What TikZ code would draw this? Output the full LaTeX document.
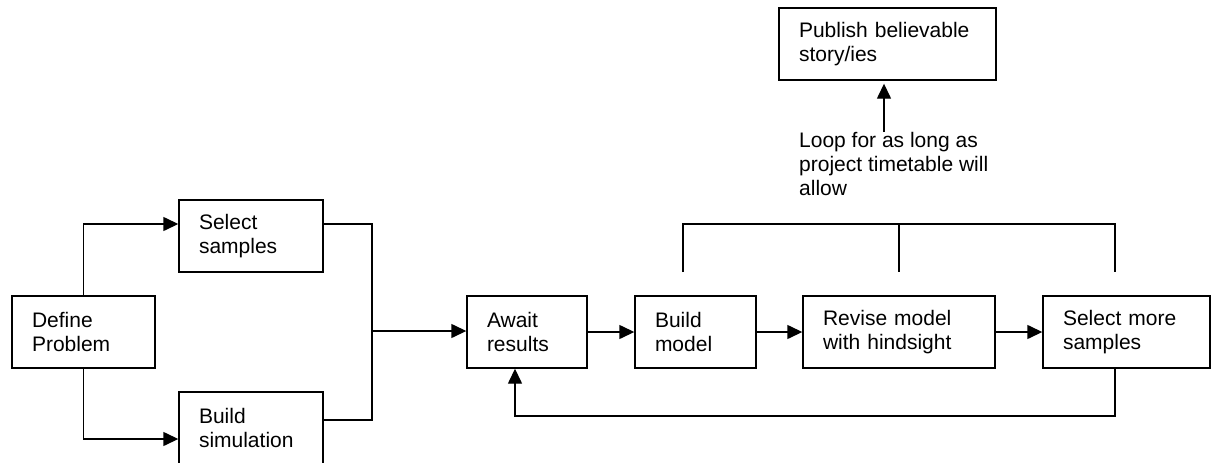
\documentclass[tikz,border=0pt]{standalone}
\usepackage{fontspec}
\setmainfont{Liberation Sans}
\usetikzlibrary{arrows.meta,calc}
\tikzset{
  box/.style={draw, line width=1.4pt, rectangle, align=left, inner xsep=20pt, inner ysep=0pt,
    minimum height=72pt, font=\fontsize{21}{24}\selectfont},
  lbl/.style={align=left, inner sep=0pt, font=\fontsize{21}{24}\selectfont},
  line/.style={line width=1.4pt},
  arr/.style={line width=1.4pt, -{Triangle[length=15pt,width=14pt]}}
}
\begin{document}
\begin{tikzpicture}[x=1pt,y=-1pt]
\useasboundingbox (0,0) rectangle (1211,463);
\clip (0,0) rectangle (1211,463);
% boxes
\node[box, text width=103pt] (def) at (83.5,332) {Define\\Problem};
\node[box, text width=104pt] (sel) at (251,236) {Select\\samples};
\node[box, text width=104pt] (sim) at (251,428) {Build\\simulation};
\node[box, text width=80pt] (await) at (527,332) {Await\\results};
\node[box, text width=81pt] (build) at (695.5,332) {Build\\model};
\node[box, text width=152pt] (rev) at (899,332) {Revise model\\with hindsight};
\node[box, text width=127pt] (more) at (1126.5,332) {Select more\\samples};
\node[box, text width=177pt] (pub) at (887.5,44) {Publish believable\\story/ies};
\node[lbl, anchor=west] (loop) at (799,164) {Loop for as long as\\project timetable will\\allow};
% helper coordinates
\coordinate (jx) at (372,331);
\coordinate (fb) at (1115,416);
\coordinate (lp) at (884,132);
\coordinate (tl) at (683,224);
\coordinate (tm) at (899,224);
\coordinate (tr) at (1115,224);
\coordinate (bl) at (683,272);
\coordinate (bm) at (899,272);
\coordinate (br) at (1115,272);
% connectors
\draw[arr] (def.north) |- ([yshift=12pt]sel.west);
\draw[arr] (def.south) |- ([yshift=-11pt]sim.west);
\draw[line] ([yshift=12pt]sel.east) -| (jx);
\draw[line] ([yshift=8pt]sim.east) -| (jx);
\draw[arr] (jx) -- (jx -| await.west);
\draw[arr] (await.east) -- (build.west);
\draw[arr] (build.east) -- (rev.west);
\draw[arr] (rev.east) -- (more.west);
\draw[arr] (fb |- more.south) -- (fb) -| ([xshift=-12pt]await.south);
\draw[line] (bl) -- (tl) -- (tr) -- (br);
\draw[line] (tm) -- (bm);
\draw[arr, shorten >=3pt] (lp) -- (lp |- pub.south);
\end{tikzpicture}
\end{document}
